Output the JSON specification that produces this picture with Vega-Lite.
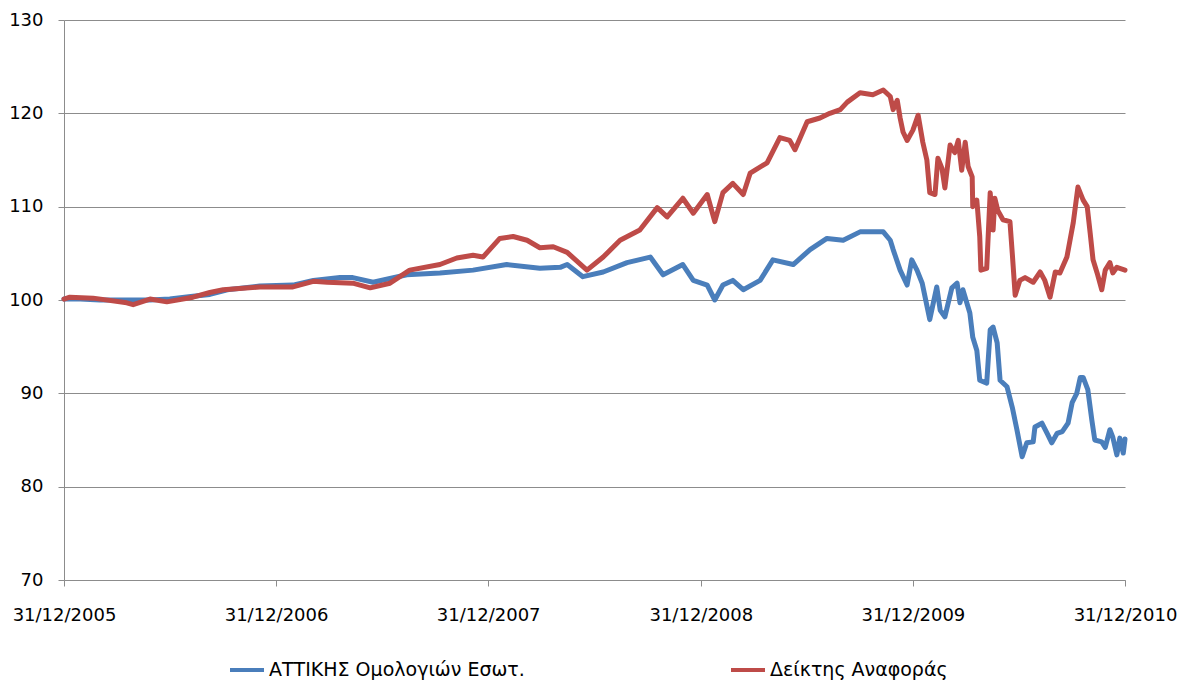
{
  "$schema": "https://vega.github.io/schema/vega-lite/v6.json",
  "width": 1061,
  "height": 560,
  "autosize": {"type": "none"},
  "padding": {"left": 64, "top": 20, "right": 54, "bottom": 104},
  "background": "white",
  "config": {"view": {"stroke": null}, "font": "DejaVu Sans"},
  "datasets": {
    "rows": [
      {"series": "ΑΤΤΙΚΗΣ Ομολογιών Εσωτ.", "date": "2005-12-31", "value": 100.1},
      {"series": "ΑΤΤΙΚΗΣ Ομολογιών Εσωτ.", "date": "2006-01-28", "value": 100.1},
      {"series": "ΑΤΤΙΚΗΣ Ομολογιών Εσωτ.", "date": "2006-03-03", "value": 100.0},
      {"series": "ΑΤΤΙΚΗΣ Ομολογιών Εσωτ.", "date": "2006-04-18", "value": 100.0},
      {"series": "ΑΤΤΙΚΗΣ Ομολογιών Εσωτ.", "date": "2006-05-28", "value": 100.0},
      {"series": "ΑΤΤΙΚΗΣ Ομολογιών Εσωτ.", "date": "2006-07-01", "value": 100.1},
      {"series": "ΑΤΤΙΚΗΣ Ομολογιών Εσωτ.", "date": "2006-08-10", "value": 100.4},
      {"series": "ΑΤΤΙΚΗΣ Ομολογιών Εσωτ.", "date": "2006-09-08", "value": 100.6},
      {"series": "ΑΤΤΙΚΗΣ Ομολογιών Εσωτ.", "date": "2006-10-08", "value": 101.1},
      {"series": "ΑΤΤΙΚΗΣ Ομολογιών Εσωτ.", "date": "2006-12-03", "value": 101.5},
      {"series": "ΑΤΤΙΚΗΣ Ομολογιών Εσωτ.", "date": "2007-01-29", "value": 101.6},
      {"series": "ΑΤΤΙΚΗΣ Ομολογιών Εσωτ.", "date": "2007-03-05", "value": 102.1},
      {"series": "ΑΤΤΙΚΗΣ Ομολογιών Εσωτ.", "date": "2007-04-20", "value": 102.4},
      {"series": "ΑΤΤΙΚΗΣ Ομολογιών Εσωτ.", "date": "2007-05-12", "value": 102.4},
      {"series": "ΑΤΤΙΚΗΣ Ομολογιών Εσωτ.", "date": "2007-06-16", "value": 101.9},
      {"series": "ΑΤΤΙΚΗΣ Ομολογιών Εσωτ.", "date": "2007-07-15", "value": 102.3},
      {"series": "ΑΤΤΙΚΗΣ Ομολογιών Εσωτ.", "date": "2007-08-13", "value": 102.7},
      {"series": "ΑΤΤΙΚΗΣ Ομολογιών Εσωτ.", "date": "2007-10-09", "value": 102.9},
      {"series": "ΑΤΤΙΚΗΣ Ομολογιών Εσωτ.", "date": "2007-12-05", "value": 103.2},
      {"series": "ΑΤΤΙΚΗΣ Ομολογιών Εσωτ.", "date": "2008-02-01", "value": 103.8},
      {"series": "ΑΤΤΙΚΗΣ Ομολογιών Εσωτ.", "date": "2008-03-29", "value": 103.4},
      {"series": "ΑΤΤΙΚΗΣ Ομολογιών Εσωτ.", "date": "2008-05-03", "value": 103.5},
      {"series": "ΑΤΤΙΚΗΣ Ομολογιών Εσωτ.", "date": "2008-05-15", "value": 103.8},
      {"series": "ΑΤΤΙΚΗΣ Ομολογιών Εσωτ.", "date": "2008-06-11", "value": 102.5},
      {"series": "ΑΤΤΙΚΗΣ Ομολογιών Εσωτ.", "date": "2008-07-16", "value": 103.0},
      {"series": "ΑΤΤΙΚΗΣ Ομολογιών Εσωτ.", "date": "2008-08-26", "value": 104.0},
      {"series": "ΑΤΤΙΚΗΣ Ομολογιών Εσωτ.", "date": "2008-10-05", "value": 104.6},
      {"series": "ΑΤΤΙΚΗΣ Ομολογιών Εσωτ.", "date": "2008-10-27", "value": 102.7},
      {"series": "ΑΤΤΙΚΗΣ Ομολογιών Εσωτ.", "date": "2008-11-30", "value": 103.8},
      {"series": "ΑΤΤΙΚΗΣ Ομολογιών Εσωτ.", "date": "2008-12-18", "value": 102.1},
      {"series": "ΑΤΤΙΚΗΣ Ομολογιών Εσωτ.", "date": "2009-01-11", "value": 101.6},
      {"series": "ΑΤΤΙΚΗΣ Ομολογιών Εσωτ.", "date": "2009-01-24", "value": 100.0},
      {"series": "ΑΤΤΙΚΗΣ Ομολογιών Εσωτ.", "date": "2009-02-07", "value": 101.6},
      {"series": "ΑΤΤΙΚΗΣ Ομολογιών Εσωτ.", "date": "2009-02-24", "value": 102.1},
      {"series": "ΑΤΤΙΚΗΣ Ομολογιών Εσωτ.", "date": "2009-03-14", "value": 101.1},
      {"series": "ΑΤΤΙΚΗΣ Ομολογιών Εσωτ.", "date": "2009-04-12", "value": 102.1},
      {"series": "ΑΤΤΙΚΗΣ Ομολογιών Εσωτ.", "date": "2009-05-04", "value": 104.3},
      {"series": "ΑΤΤΙΚΗΣ Ομολογιών Εσωτ.", "date": "2009-06-08", "value": 103.8},
      {"series": "ΑΤΤΙΚΗΣ Ομολογιών Εσωτ.", "date": "2009-07-07", "value": 105.4},
      {"series": "ΑΤΤΙΚΗΣ Ομολογιών Εσωτ.", "date": "2009-08-05", "value": 106.6},
      {"series": "ΑΤΤΙΚΗΣ Ομολογιών Εσωτ.", "date": "2009-09-02", "value": 106.4},
      {"series": "ΑΤΤΙΚΗΣ Ομολογιών Εσωτ.", "date": "2009-10-01", "value": 107.3},
      {"series": "ΑΤΤΙΚΗΣ Ομολογιών Εσωτ.", "date": "2009-11-10", "value": 107.3},
      {"series": "ΑΤΤΙΚΗΣ Ομολογιών Εσωτ.", "date": "2009-11-22", "value": 106.4},
      {"series": "ΑΤΤΙΚΗΣ Ομολογιών Εσωτ.", "date": "2009-11-27", "value": 105.4},
      {"series": "ΑΤΤΙΚΗΣ Ομολογιών Εσωτ.", "date": "2009-12-09", "value": 103.2},
      {"series": "ΑΤΤΙΚΗΣ Ομολογιών Εσωτ.", "date": "2009-12-21", "value": 101.6},
      {"series": "ΑΤΤΙΚΗΣ Ομολογιών Εσωτ.", "date": "2009-12-29", "value": 104.3},
      {"series": "ΑΤΤΙΚΗΣ Ομολογιών Εσωτ.", "date": "2010-01-07", "value": 103.2},
      {"series": "ΑΤΤΙΚΗΣ Ομολογιών Εσωτ.", "date": "2010-01-16", "value": 101.8},
      {"series": "ΑΤΤΙΚΗΣ Ομολογιών Εσωτ.", "date": "2010-01-29", "value": 97.9},
      {"series": "ΑΤΤΙΚΗΣ Ομολογιών Εσωτ.", "date": "2010-02-10", "value": 101.4},
      {"series": "ΑΤΤΙΚΗΣ Ομολογιών Εσωτ.", "date": "2010-02-16", "value": 98.9},
      {"series": "ΑΤΤΙΚΗΣ Ομολογιών Εσωτ.", "date": "2010-02-24", "value": 98.2},
      {"series": "ΑΤΤΙΚΗΣ Ομολογιών Εσωτ.", "date": "2010-03-08", "value": 101.3},
      {"series": "ΑΤΤΙΚΗΣ Ομολογιών Εσωτ.", "date": "2010-03-17", "value": 101.8},
      {"series": "ΑΤΤΙΚΗΣ Ομολογιών Εσωτ.", "date": "2010-03-22", "value": 99.7},
      {"series": "ΑΤΤΙΚΗΣ Ομολογιών Εσωτ.", "date": "2010-03-27", "value": 101.1},
      {"series": "ΑΤΤΙΚΗΣ Ομολογιών Εσωτ.", "date": "2010-04-08", "value": 98.6},
      {"series": "ΑΤΤΙΚΗΣ Ομολογιών Εσωτ.", "date": "2010-04-13", "value": 96.0},
      {"series": "ΑΤΤΙΚΗΣ Ομολογιών Εσωτ.", "date": "2010-04-20", "value": 94.6},
      {"series": "ΑΤΤΙΚΗΣ Ομολογιών Εσωτ.", "date": "2010-04-25", "value": 91.4},
      {"series": "ΑΤΤΙΚΗΣ Ομολογιών Εσωτ.", "date": "2010-05-07", "value": 91.1},
      {"series": "ΑΤΤΙΚΗΣ Ομολογιών Εσωτ.", "date": "2010-05-13", "value": 96.8},
      {"series": "ΑΤΤΙΚΗΣ Ομολογιών Εσωτ.", "date": "2010-05-18", "value": 97.1},
      {"series": "ΑΤΤΙΚΗΣ Ομολογιών Εσωτ.", "date": "2010-05-25", "value": 95.4},
      {"series": "ΑΤΤΙΚΗΣ Ομολογιών Εσωτ.", "date": "2010-05-30", "value": 91.4},
      {"series": "ΑΤΤΙΚΗΣ Ομολογιών Εσωτ.", "date": "2010-06-11", "value": 90.7},
      {"series": "ΑΤΤΙΚΗΣ Ομολογιών Εσωτ.", "date": "2010-06-20", "value": 88.5},
      {"series": "ΑΤΤΙΚΗΣ Ομολογιών Εσωτ.", "date": "2010-06-28", "value": 86.1},
      {"series": "ΑΤΤΙΚΗΣ Ομολογιών Εσωτ.", "date": "2010-07-07", "value": 83.2},
      {"series": "ΑΤΤΙΚΗΣ Ομολογιών Εσωτ.", "date": "2010-07-15", "value": 84.7},
      {"series": "ΑΤΤΙΚΗΣ Ομολογιών Εσωτ.", "date": "2010-07-26", "value": 84.8},
      {"series": "ΑΤΤΙΚΗΣ Ομολογιών Εσωτ.", "date": "2010-07-29", "value": 86.4},
      {"series": "ΑΤΤΙΚΗΣ Ομολογιών Εσωτ.", "date": "2010-08-10", "value": 86.8},
      {"series": "ΑΤΤΙΚΗΣ Ομολογιών Εσωτ.", "date": "2010-08-19", "value": 85.7},
      {"series": "ΑΤΤΙΚΗΣ Ομολογιών Εσωτ.", "date": "2010-08-27", "value": 84.7},
      {"series": "ΑΤΤΙΚΗΣ Ομολογιών Εσωτ.", "date": "2010-09-05", "value": 85.7},
      {"series": "ΑΤΤΙΚΗΣ Ομολογιών Εσωτ.", "date": "2010-09-14", "value": 85.9},
      {"series": "ΑΤΤΙΚΗΣ Ομολογιών Εσωτ.", "date": "2010-09-24", "value": 86.8},
      {"series": "ΑΤΤΙΚΗΣ Ομολογιών Εσωτ.", "date": "2010-10-01", "value": 89.0},
      {"series": "ΑΤΤΙΚΗΣ Ομολογιών Εσωτ.", "date": "2010-10-09", "value": 90.0},
      {"series": "ΑΤΤΙΚΗΣ Ομολογιών Εσωτ.", "date": "2010-10-15", "value": 91.7},
      {"series": "ΑΤΤΙΚΗΣ Ομολογιών Εσωτ.", "date": "2010-10-20", "value": 91.7},
      {"series": "ΑΤΤΙΚΗΣ Ομολογιών Εσωτ.", "date": "2010-10-28", "value": 90.4},
      {"series": "ΑΤΤΙΚΗΣ Ομολογιών Εσωτ.", "date": "2010-11-04", "value": 87.1},
      {"series": "ΑΤΤΙΚΗΣ Ομολογιών Εσωτ.", "date": "2010-11-09", "value": 85.0},
      {"series": "ΑΤΤΙΚΗΣ Ομολογιών Εσωτ.", "date": "2010-11-21", "value": 84.8},
      {"series": "ΑΤΤΙΚΗΣ Ομολογιών Εσωτ.", "date": "2010-11-27", "value": 84.2},
      {"series": "ΑΤΤΙΚΗΣ Ομολογιών Εσωτ.", "date": "2010-12-05", "value": 86.1},
      {"series": "ΑΤΤΙΚΗΣ Ομολογιών Εσωτ.", "date": "2010-12-10", "value": 85.3},
      {"series": "ΑΤΤΙΚΗΣ Ομολογιών Εσωτ.", "date": "2010-12-17", "value": 83.4},
      {"series": "ΑΤΤΙΚΗΣ Ομολογιών Εσωτ.", "date": "2010-12-22", "value": 85.2},
      {"series": "ΑΤΤΙΚΗΣ Ομολογιών Εσωτ.", "date": "2010-12-28", "value": 83.6},
      {"series": "ΑΤΤΙΚΗΣ Ομολογιών Εσωτ.", "date": "2010-12-31", "value": 85.1},
      {"series": "Δείκτης Αναφοράς", "date": "2005-12-31", "value": 100.1},
      {"series": "Δείκτης Αναφοράς", "date": "2006-01-10", "value": 100.3},
      {"series": "Δείκτης Αναφοράς", "date": "2006-02-19", "value": 100.2},
      {"series": "Δείκτης Αναφοράς", "date": "2006-04-18", "value": 99.7},
      {"series": "Δείκτης Αναφοράς", "date": "2006-04-29", "value": 99.5},
      {"series": "Δείκτης Αναφοράς", "date": "2006-05-28", "value": 100.1},
      {"series": "Δείκτης Αναφοράς", "date": "2006-06-26", "value": 99.8},
      {"series": "Δείκτης Αναφοράς", "date": "2006-08-10", "value": 100.3},
      {"series": "Δείκτης Αναφοράς", "date": "2006-09-08", "value": 100.8},
      {"series": "Δείκτης Αναφοράς", "date": "2006-10-01", "value": 101.1},
      {"series": "Δείκτης Αναφοράς", "date": "2006-12-03", "value": 101.4},
      {"series": "Δείκτης Αναφοράς", "date": "2007-01-29", "value": 101.4},
      {"series": "Δείκτης Αναφοράς", "date": "2007-03-05", "value": 102.0},
      {"series": "Δείκτης Αναφοράς", "date": "2007-03-29", "value": 101.9},
      {"series": "Δείκτης Αναφοράς", "date": "2007-05-12", "value": 101.8},
      {"series": "Δείκτης Αναφοράς", "date": "2007-06-11", "value": 101.3},
      {"series": "Δείκτης Αναφοράς", "date": "2007-07-15", "value": 101.8},
      {"series": "Δείκτης Αναφοράς", "date": "2007-08-18", "value": 103.2},
      {"series": "Δείκτης Αναφοράς", "date": "2007-10-09", "value": 103.8},
      {"series": "Δείκτης Αναφοράς", "date": "2007-11-07", "value": 104.5},
      {"series": "Δείκτης Αναφοράς", "date": "2007-12-05", "value": 104.8},
      {"series": "Δείκτης Αναφοράς", "date": "2007-12-22", "value": 104.6},
      {"series": "Δείκτης Αναφοράς", "date": "2008-01-20", "value": 106.6},
      {"series": "Δείκτης Αναφοράς", "date": "2008-02-12", "value": 106.8},
      {"series": "Δείκτης Αναφοράς", "date": "2008-03-07", "value": 106.4},
      {"series": "Δείκτης Αναφοράς", "date": "2008-03-29", "value": 105.6},
      {"series": "Δείκτης Αναφοράς", "date": "2008-04-21", "value": 105.7},
      {"series": "Δείκτης Αναφοράς", "date": "2008-05-15", "value": 105.1},
      {"series": "Δείκτης Αναφοράς", "date": "2008-06-18", "value": 103.2},
      {"series": "Δείκτης Αναφοράς", "date": "2008-07-16", "value": 104.6},
      {"series": "Δείκτης Αναφοράς", "date": "2008-08-14", "value": 106.4},
      {"series": "Δείκτης Αναφοράς", "date": "2008-09-17", "value": 107.5},
      {"series": "Δείκτης Αναφοράς", "date": "2008-10-17", "value": 109.9},
      {"series": "Δείκτης Αναφοράς", "date": "2008-11-03", "value": 108.9},
      {"series": "Δείκτης Αναφοράς", "date": "2008-11-30", "value": 110.9},
      {"series": "Δείκτης Αναφοράς", "date": "2008-12-18", "value": 109.3},
      {"series": "Δείκτης Αναφοράς", "date": "2009-01-11", "value": 111.3},
      {"series": "Δείκτης Αναφοράς", "date": "2009-01-24", "value": 108.4},
      {"series": "Δείκτης Αναφοράς", "date": "2009-02-07", "value": 111.5},
      {"series": "Δείκτης Αναφοράς", "date": "2009-02-24", "value": 112.5},
      {"series": "Δείκτης Αναφοράς", "date": "2009-03-14", "value": 111.3},
      {"series": "Δείκτης Αναφοράς", "date": "2009-03-26", "value": 113.6},
      {"series": "Δείκτης Αναφοράς", "date": "2009-04-24", "value": 114.7},
      {"series": "Δείκτης Αναφοράς", "date": "2009-05-16", "value": 117.4},
      {"series": "Δείκτης Αναφοράς", "date": "2009-06-02", "value": 117.1},
      {"series": "Δείκτης Αναφοράς", "date": "2009-06-11", "value": 116.1},
      {"series": "Δείκτης Αναφοράς", "date": "2009-07-02", "value": 119.1},
      {"series": "Δείκτης Αναφοράς", "date": "2009-07-24", "value": 119.5},
      {"series": "Δείκτης Αναφοράς", "date": "2009-08-10", "value": 120.0},
      {"series": "Δείκτης Αναφοράς", "date": "2009-08-28", "value": 120.4},
      {"series": "Δείκτης Αναφοράς", "date": "2009-09-09", "value": 121.2},
      {"series": "Δείκτης Αναφοράς", "date": "2009-10-01", "value": 122.2},
      {"series": "Δείκτης Αναφοράς", "date": "2009-10-23", "value": 122.0},
      {"series": "Δείκτης Αναφοράς", "date": "2009-11-10", "value": 122.5},
      {"series": "Δείκτης Αναφοράς", "date": "2009-11-22", "value": 121.8},
      {"series": "Δείκτης Αναφοράς", "date": "2009-11-27", "value": 120.4},
      {"series": "Δείκτης Αναφοράς", "date": "2009-12-04", "value": 121.4},
      {"series": "Δείκτης Αναφοράς", "date": "2009-12-09", "value": 119.5},
      {"series": "Δείκτης Αναφοράς", "date": "2009-12-14", "value": 118.0},
      {"series": "Δείκτης Αναφοράς", "date": "2009-12-21", "value": 117.1},
      {"series": "Δείκτης Αναφοράς", "date": "2009-12-31", "value": 118.2},
      {"series": "Δείκτης Αναφοράς", "date": "2010-01-09", "value": 119.8},
      {"series": "Δείκτης Αναφοράς", "date": "2010-01-17", "value": 116.9},
      {"series": "Δείκτης Αναφοράς", "date": "2010-01-24", "value": 115.0},
      {"series": "Δείκτης Αναφοράς", "date": "2010-01-29", "value": 111.5},
      {"series": "Δείκτης Αναφοράς", "date": "2010-02-07", "value": 111.3},
      {"series": "Δείκτης Αναφοράς", "date": "2010-02-12", "value": 115.2},
      {"series": "Δείκτης Αναφοράς", "date": "2010-02-19", "value": 114.1},
      {"series": "Δείκτης Αναφοράς", "date": "2010-02-24", "value": 112.0},
      {"series": "Δείκτης Αναφοράς", "date": "2010-03-05", "value": 116.6},
      {"series": "Δείκτης Αναφοράς", "date": "2010-03-13", "value": 115.8},
      {"series": "Δείκτης Αναφοράς", "date": "2010-03-19", "value": 117.1},
      {"series": "Δείκτης Αναφοράς", "date": "2010-03-25", "value": 113.9},
      {"series": "Δείκτης Αναφοράς", "date": "2010-03-31", "value": 116.9},
      {"series": "Δείκτης Αναφοράς", "date": "2010-04-05", "value": 114.3},
      {"series": "Δείκτης Αναφοράς", "date": "2010-04-12", "value": 113.2},
      {"series": "Δείκτης Αναφοράς", "date": "2010-04-13", "value": 110.0},
      {"series": "Δείκτης Αναφοράς", "date": "2010-04-20", "value": 110.7},
      {"series": "Δείκτης Αναφοράς", "date": "2010-04-25", "value": 106.8},
      {"series": "Δείκτης Αναφοράς", "date": "2010-04-27", "value": 103.2},
      {"series": "Δείκτης Αναφοράς", "date": "2010-05-07", "value": 103.4},
      {"series": "Δείκτης Αναφοράς", "date": "2010-05-13", "value": 111.5},
      {"series": "Δείκτης Αναφοράς", "date": "2010-05-18", "value": 107.5},
      {"series": "Δείκτης Αναφοράς", "date": "2010-05-21", "value": 110.9},
      {"series": "Δείκτης Αναφοράς", "date": "2010-05-26", "value": 109.6},
      {"series": "Δείκτης Αναφοράς", "date": "2010-06-04", "value": 108.6},
      {"series": "Δείκτης Αναφοράς", "date": "2010-06-16", "value": 108.4},
      {"series": "Δείκτης Αναφοράς", "date": "2010-06-20", "value": 105.0},
      {"series": "Δείκτης Αναφοράς", "date": "2010-06-25", "value": 100.5},
      {"series": "Δείκτης Αναφοράς", "date": "2010-07-03", "value": 102.1},
      {"series": "Δείκτης Αναφοράς", "date": "2010-07-12", "value": 102.4},
      {"series": "Δείκτης Αναφοράς", "date": "2010-07-26", "value": 101.9},
      {"series": "Δείκτης Αναφοράς", "date": "2010-08-07", "value": 103.0},
      {"series": "Δείκτης Αναφοράς", "date": "2010-08-15", "value": 102.1},
      {"series": "Δείκτης Αναφοράς", "date": "2010-08-24", "value": 100.3},
      {"series": "Δείκτης Αναφοράς", "date": "2010-09-02", "value": 103.0},
      {"series": "Δείκτης Αναφοράς", "date": "2010-09-10", "value": 102.9},
      {"series": "Δείκτης Αναφοράς", "date": "2010-09-22", "value": 104.6},
      {"series": "Δείκτης Αναφοράς", "date": "2010-10-03", "value": 108.3},
      {"series": "Δείκτης Αναφοράς", "date": "2010-10-11", "value": 112.1},
      {"series": "Δείκτης Αναφοράς", "date": "2010-10-20", "value": 110.7},
      {"series": "Δείκτης Αναφοράς", "date": "2010-10-27", "value": 110.0},
      {"series": "Δείκτης Αναφοράς", "date": "2010-11-01", "value": 107.2},
      {"series": "Δείκτης Αναφοράς", "date": "2010-11-06", "value": 104.3},
      {"series": "Δείκτης Αναφοράς", "date": "2010-11-13", "value": 102.9},
      {"series": "Δείκτης Αναφοράς", "date": "2010-11-21", "value": 101.1},
      {"series": "Δείκτης Αναφοράς", "date": "2010-11-27", "value": 103.2},
      {"series": "Δείκτης Αναφοράς", "date": "2010-12-05", "value": 104.0},
      {"series": "Δείκτης Αναφοράς", "date": "2010-12-10", "value": 102.9},
      {"series": "Δείκτης Αναφοράς", "date": "2010-12-17", "value": 103.5},
      {"series": "Δείκτης Αναφοράς", "date": "2010-12-31", "value": 103.2}
    ]
  },
  "data": {"name": "rows"},
  "mark": {"type": "line", "strokeWidth": 5, "strokeCap": "round", "strokeJoin": "round"},
  "encoding": {
    "x": {
      "field": "date",
      "type": "temporal",
      "scale": {
        "type": "utc",
        "domain": [
          {"year": 2005, "month": 12, "date": 31, "utc": true},
          {"year": 2010, "month": 12, "date": 31, "utc": true}
        ]
      },
      "axis": {
        "title": null,
        "grid": false,
        "values": [
          {"year": 2005, "month": 12, "date": 31, "utc": true},
          {"year": 2006, "month": 12, "date": 31, "utc": true},
          {"year": 2007, "month": 12, "date": 31, "utc": true},
          {"year": 2008, "month": 12, "date": 31, "utc": true},
          {"year": 2009, "month": 12, "date": 31, "utc": true},
          {"year": 2010, "month": 12, "date": 31, "utc": true}
        ],
        "format": "%d/%m/%Y",
        "labelFlush": false,
        "labelOverlap": false,
        "labelFontSize": 18,
        "labelColor": "#000000",
        "labelPadding": 20,
        "domainColor": "#8c8c8c",
        "tickColor": "#8c8c8c",
        "tickSize": 6
      }
    },
    "y": {
      "field": "value",
      "type": "quantitative",
      "scale": {"domain": [70, 130], "nice": false, "zero": false},
      "axis": {
        "title": null,
        "values": [70, 80, 90, 100, 110, 120, 130],
        "labelFontSize": 18,
        "labelColor": "#000000",
        "labelPadding": 15,
        "gridColor": "#8c8c8c",
        "domainColor": "#8c8c8c",
        "tickColor": "#8c8c8c",
        "tickSize": 6
      }
    },
    "color": {
      "field": "series",
      "type": "nominal",
      "scale": {
        "domain": ["ΑΤΤΙΚΗΣ Ομολογιών Εσωτ.", "Δείκτης Αναφοράς"],
        "range": ["#4A7EBB", "#BE4B48"]
      },
      "legend": {
        "title": null,
        "orient": "none",
        "legendX": 164,
        "legendY": 631,
        "direction": "horizontal",
        "symbolType": "stroke",
        "symbolSize": 1156,
        "symbolStrokeWidth": 4,
        "labelFontSize": 19,
        "labelLimit": 0,
        "labelColor": "#000000",
        "labelOffset": 3,
        "columnPadding": 198
      }
    }
  }
}
